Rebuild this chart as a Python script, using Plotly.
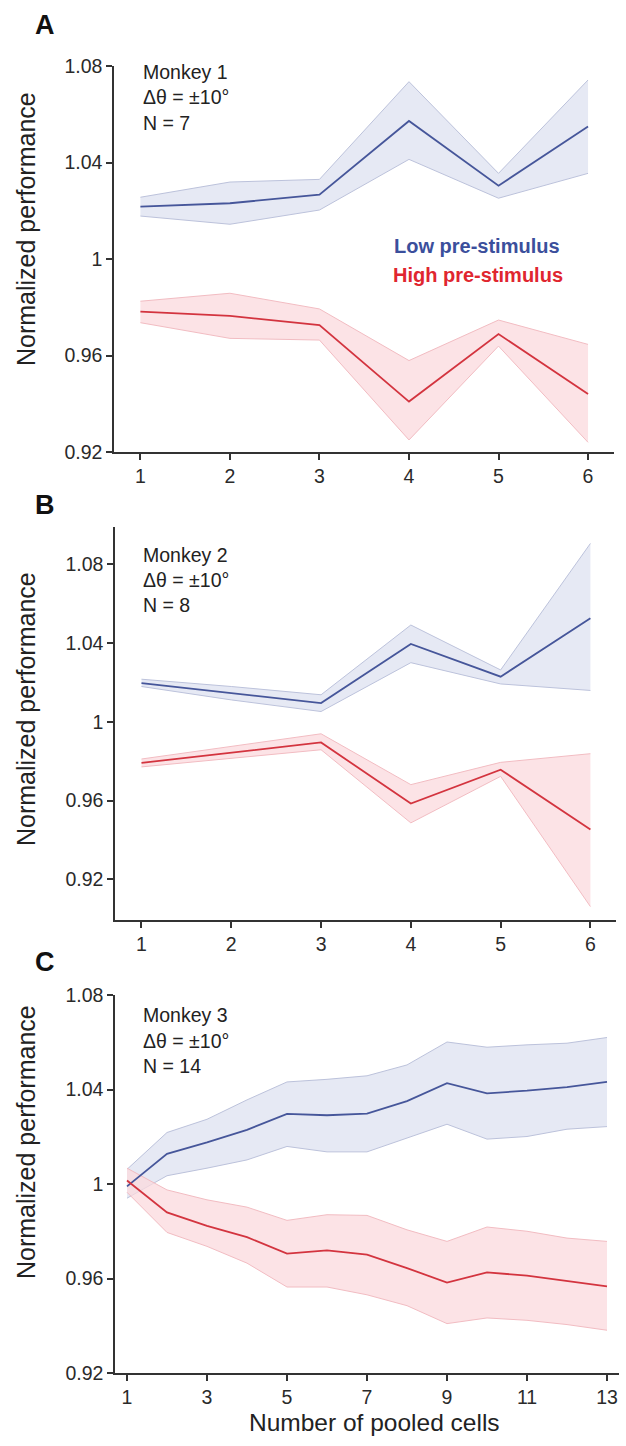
import plotly.graph_objects as go

# ---------------- data ----------------
cells_AB = [1, 2, 3, 4, 5, 6]
cells_C = [1, 2, 3, 4, 5, 6, 7, 8, 9, 10, 11, 12, 13]

A_low = [1.0217, 1.0231, 1.0267, 1.0572, 1.0304, 1.0549]
A_low_hi = [1.0256, 1.0319, 1.0330, 1.0735, 1.0355, 1.0742]
A_low_lo = [1.0178, 1.0144, 1.0203, 1.0413, 1.0252, 1.0355]
A_high = [0.9782, 0.9764, 0.9726, 0.9409, 0.9689, 0.9440]
A_high_hi = [0.9825, 0.9858, 0.9793, 0.9579, 0.9747, 0.9646]
A_high_lo = [0.9736, 0.9671, 0.9664, 0.9250, 0.9639, 0.9240]

B_low = [1.0196, 1.0145, 1.0095, 1.0395, 1.0229, 1.0525]
B_low_hi = [1.0216, 1.0179, 1.0137, 1.0491, 1.0263, 1.0905]
B_low_lo = [1.0179, 1.0111, 1.0052, 1.0300, 1.0192, 1.0159]
B_high = [0.9791, 0.9843, 0.9895, 0.9585, 0.9757, 0.9453]
B_high_hi = [0.9811, 0.9875, 0.9939, 0.9681, 0.9794, 0.9838]
B_high_lo = [0.9771, 0.9816, 0.9858, 0.9487, 0.9723, 0.9062]

C_low = [0.9990, 1.0128, 1.0176, 1.0229, 1.0297, 1.0291, 1.0298, 1.0351, 1.0427, 1.0384, 1.0395, 1.0410, 1.0432]
C_low_hi = [1.0062, 1.0218, 1.0274, 1.0356, 1.0432, 1.0443, 1.0458, 1.0504, 1.0601, 1.0579, 1.0589, 1.0596, 1.0620]
C_low_lo = [0.9940, 1.0035, 1.0067, 1.0102, 1.0159, 1.0136, 1.0136, 1.0194, 1.0253, 1.0190, 1.0201, 1.0232, 1.0243]
C_high = [1.0015, 0.9880, 0.9823, 0.9775, 0.9705, 0.9719, 0.9701, 0.9644, 0.9583, 0.9626, 0.9612, 0.9591, 0.9567]
C_high_hi = [1.0067, 0.9975, 0.9933, 0.9902, 0.9846, 0.9870, 0.9867, 0.9806, 0.9757, 0.9818, 0.9800, 0.9771, 0.9757]
C_high_lo = [0.9965, 0.9795, 0.9736, 0.9665, 0.9564, 0.9564, 0.9531, 0.9485, 0.9409, 0.9433, 0.9423, 0.9405, 0.9381]

y_ticks = [0.92, 0.96, 1.0, 1.04, 1.08]
y_ticklabels = ["0.92", "0.96", "1", "1.04", "1.08"]
x_ticks_AB = [1, 2, 3, 4, 5, 6]
x_ticks_C = [1, 3, 5, 7, 9, 11, 13]

panel_labels = ["A", "B", "C"]
monkey_text = [["Monkey 1", "Δθ = ±10°", "N = 7"],
               ["Monkey 2", "Δθ = ±10°", "N = 8"],
               ["Monkey 3", "Δθ = ±10°", "N = 14"]]
legend_names = ["Low pre-stimulus", "High pre-stimulus"]

# ---------------- style ----------------
W, H = 626, 1446
FONT = "Liberation Sans, Arial, sans-serif"
BLUE = "#46569a"
BLUE_FILL = "rgba(222,225,240,0.75)"
BLUE_EDGE = "#bcc2db"
RED = "#d3343f"
RED_FILL = "rgba(251,218,222,0.75)"
RED_EDGE = "#f2bcc2"
AX = "#333333"

fig = go.Figure()

panels = [
    dict(x=cells_AB, series=[(A_low, A_low_hi, A_low_lo), (A_high, A_high_hi, A_high_lo)]),
    dict(x=cells_AB, series=[(B_low, B_low_hi, B_low_lo), (B_high, B_high_hi, B_high_lo)]),
    dict(x=cells_C, series=[(C_low, C_low_hi, C_low_lo), (C_high, C_high_hi, C_high_lo)]),
]
colors = [(BLUE, BLUE_FILL, BLUE_EDGE), (RED, RED_FILL, RED_EDGE)]

for i, p in enumerate(panels):
    suf = "" if i == 0 else str(i + 1)
    xa, ya = "x" + suf, "y" + suf
    for (mean, hi, lo), (lc, fc, ec) in zip(p["series"], colors):
        fig.add_trace(go.Scatter(x=p["x"], y=lo, mode="lines", line=dict(color=ec, width=1),
                                 xaxis=xa, yaxis=ya, showlegend=False, hoverinfo="skip"))
        fig.add_trace(go.Scatter(x=p["x"], y=hi, mode="lines", line=dict(color=ec, width=1),
                                 fill="tonexty", fillcolor=fc,
                                 xaxis=xa, yaxis=ya, showlegend=False, hoverinfo="skip"))
    for (mean, hi, lo), (lc, fc, ec), nm in zip(p["series"], colors, legend_names):
        fig.add_trace(go.Scatter(x=p["x"], y=mean, mode="lines", line=dict(color=lc, width=1.8),
                                 xaxis=xa, yaxis=ya, showlegend=False, name=nm))


def px_x(px):
    return px / W


def px_y(py):
    return 1 - py / H


# panel geometry in pixels: (left, right, top, bottom)
geom = [(114, 614, 66, 452), (115, 616, 526.7, 920), (115, 619, 995, 1373)]
xranges = [[0.705, 6.29], [0.705, 6.285], [0.70, 13.3]]
yranges = [[0.92, 1.08], [0.8994, 1.099], [0.92, 1.08]]
xticks = [x_ticks_AB, x_ticks_AB, x_ticks_C]

layout = dict(width=W, height=H, margin=dict(l=0, r=0, t=0, b=0, autoexpand=False),
              template="none",
              paper_bgcolor="white", plot_bgcolor="white",
              font=dict(family=FONT, color="#222"), showlegend=False)

axis_common = dict(showline=True, linecolor=AX, linewidth=1.5, ticks="outside", ticklen=6,
                   tickwidth=1.5, tickcolor=AX, showgrid=False, zeroline=False, automargin=False,
                   mirror=False,
                   tickfont=dict(family=FONT, size=19.5, color="#2a2a2a"))

for i, (l, r, t, b) in enumerate(geom):
    suf = "" if i == 0 else str(i + 1)
    layout["xaxis" + suf] = dict(axis_common, domain=[px_x(l), px_x(r)], range=xranges[i],
                                 anchor="y" + suf, tickvals=xticks[i],
                                 ticktext=[str(v) for v in xticks[i]])
    layout["yaxis" + suf] = dict(axis_common, domain=[px_y(b), px_y(t)], range=yranges[i],
                                 anchor="x" + suf, tickvals=y_ticks, ticktext=y_ticklabels)

fig.update_layout(**layout)

ann = []
letter_y = [25, 505, 962]
for i, lab in enumerate(panel_labels):
    ann.append(dict(text="<b>%s</b>" % lab, x=px_x(45), y=px_y(letter_y[i]), xref="paper", yref="paper",
                    showarrow=False, xanchor="center", yanchor="middle",
                    font=dict(family=FONT, size=27, color="#111")))

text_y = [[72, 97.5, 123], [555, 580, 605], [1015, 1041, 1066]]
for i, lines in enumerate(monkey_text):
    for line, ty in zip(lines, text_y[i]):
        ann.append(dict(text=line, x=px_x(141), y=px_y(ty), xref="paper", yref="paper",
                        showarrow=False, xanchor="left", yanchor="middle",
                        font=dict(family=FONT, size=19.5, color="#222")))

ytitle_y = [229, 709, 1142]
for ty in ytitle_y:
    ann.append(dict(text="Normalized performance", x=px_x(26), y=px_y(ty), xref="paper", yref="paper",
                    showarrow=False, xanchor="center", yanchor="middle", textangle=-90,
                    font=dict(family=FONT, size=25, color="#222")))

ann.append(dict(text="Number of pooled cells", x=px_x(375), y=px_y(1422), xref="paper", yref="paper",
                showarrow=False, xanchor="center", yanchor="middle",
                font=dict(family=FONT, size=24.5, color="#222")))

ann.append(dict(text="<b>%s</b>" % legend_names[0], x=px_x(392), y=px_y(246), xref="paper", yref="paper",
                showarrow=False, xanchor="left", yanchor="middle",
                font=dict(family=FONT, size=20, color="#3b4f9c")))
ann.append(dict(text="<b>%s</b>" % legend_names[1], x=px_x(391), y=px_y(275), xref="paper", yref="paper",
                showarrow=False, xanchor="left", yanchor="middle",
                font=dict(family=FONT, size=20, color="#e0262f")))

fig.update_layout(annotations=ann)
fig.write_html("out.html", config={"displayModeBar": False},
               post_script="document.body.style.margin='0';document.body.style.overflow='hidden';")
